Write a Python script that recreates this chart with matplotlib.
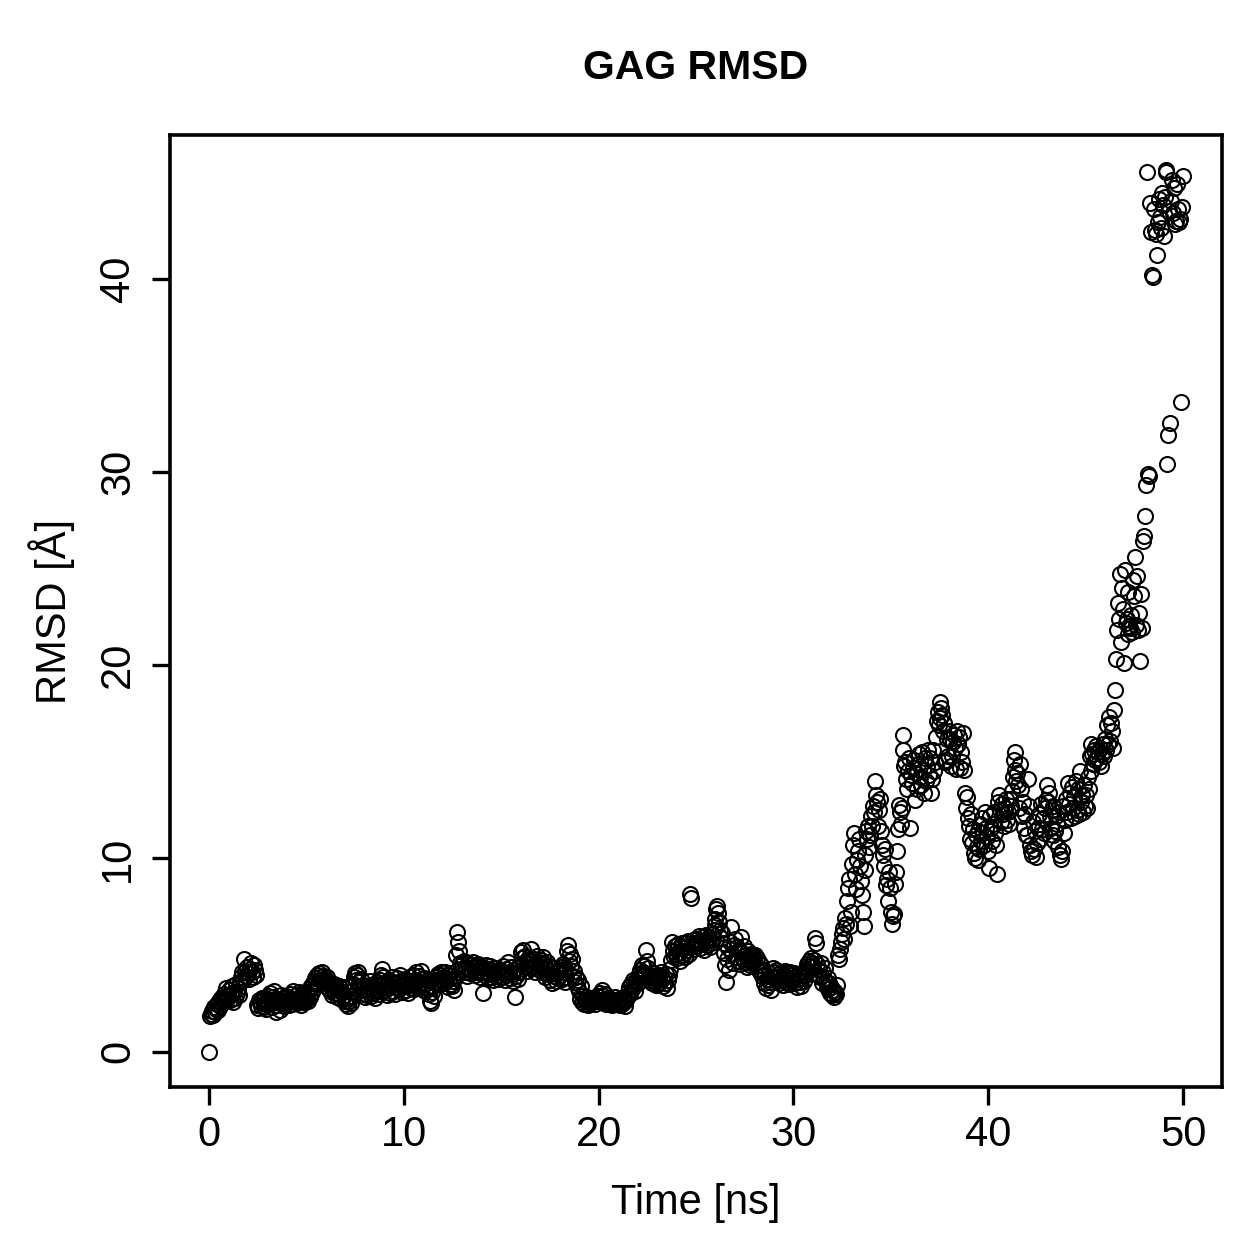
import numpy as np
import matplotlib
matplotlib.use("Agg")
import matplotlib.pyplot as plt

# RMSD of the GAG chain, one frame every 0.05 ns (one row = 1 ns)
rmsd = [
    0.00, 1.85, 1.95, 2.10, 1.90, 2.30, 2.05, 2.20, 2.45, 2.15, 2.60, 2.35, 2.80, 2.50, 2.70, 3.00, 2.65, 2.90, 3.30, 2.75,
    2.90, 3.20, 2.70, 2.95, 3.40, 2.55, 3.10, 2.80, 3.50, 3.05, 3.30, 2.95, 3.60, 3.85, 4.10, 3.70, 4.80, 4.20, 3.90, 4.40,
    4.05, 3.75, 4.30, 4.60, 4.15, 3.85, 4.50, 4.25, 3.95, 2.40, 2.25, 2.70, 2.55, 2.35, 2.80, 2.60, 2.30, 2.75, 2.50, 2.20,
    2.65, 2.90, 2.45, 3.05, 2.70, 2.30, 2.85, 3.15, 2.55, 2.05, 2.40, 2.75, 2.60, 2.15, 2.95, 2.50, 2.80, 2.35, 2.65, 2.90,
    2.55, 2.85, 2.40, 3.00, 2.70, 2.45, 3.15, 2.75, 2.60, 2.95, 2.50, 2.80, 3.10, 2.65, 2.40, 2.90, 2.70, 3.05, 2.55, 2.85,
    2.70, 3.00, 2.60, 3.25, 2.85, 3.40, 3.10, 3.55, 3.30, 3.80, 3.65, 3.95, 3.50, 4.05, 3.85, 3.70, 4.10, 3.60, 3.90, 3.75,
    3.55, 3.85, 3.30, 3.60, 3.15, 3.45, 2.95, 3.25, 3.50, 3.05, 3.35, 2.85, 3.20, 3.40, 3.00, 3.30, 2.75, 3.10, 3.35, 2.90,
    2.65, 2.45, 2.80, 2.35, 2.60, 2.90, 2.50, 3.15, 3.50, 3.85, 4.05, 3.70, 3.95, 4.10, 3.60, 3.35, 3.75, 3.20, 3.45, 3.00,
    2.85, 3.20, 2.95, 3.40, 3.10, 3.65, 2.90, 3.30, 3.05, 3.50, 2.80, 3.25, 3.60, 3.15, 3.45, 3.00, 3.70, 3.95, 4.30, 3.85,
    3.55, 3.20, 3.45, 2.95, 3.30, 3.70, 3.05, 3.40, 3.85, 3.15, 3.50, 3.00, 3.35, 3.80, 3.60, 3.25, 3.95, 3.45, 3.10, 3.65,
    3.40, 3.75, 3.20, 3.55, 3.05, 3.45, 3.85, 3.30, 3.60, 3.95, 3.50, 3.25, 3.70, 4.10, 3.65, 3.40, 3.90, 3.55, 4.20, 3.75,
    3.45, 3.80, 3.15, 3.55, 3.30, 3.70, 3.00, 2.65, 2.50, 3.10, 3.40, 2.90, 3.60, 3.85, 3.50, 4.00, 3.75, 3.95, 4.15, 3.70,
    3.85, 3.55, 4.10, 3.70, 3.95, 3.35, 3.75, 4.05, 3.50, 3.90, 3.40, 3.65, 3.20, 3.80, 5.00, 6.20, 5.70, 5.20, 4.60, 4.30,
    4.55, 4.25, 4.70, 4.15, 4.40, 3.90, 4.60, 4.30, 4.05, 4.50, 4.20, 4.65, 4.35, 3.95, 4.45, 4.10, 4.55, 4.25, 3.85, 4.40,
    4.15, 3.05, 4.35, 3.95, 4.50, 4.10, 3.80, 4.30, 4.00, 4.45, 3.85, 4.20, 3.70, 4.05, 4.35, 3.90, 4.15, 3.75, 4.25, 3.95,
    4.20, 3.85, 4.45, 4.05, 3.70, 4.30, 3.95, 4.65, 4.15, 3.80, 4.40, 4.00, 3.65, 4.25, 2.85, 3.90, 4.35, 3.75, 4.10, 4.55,
    5.15, 4.85, 5.25, 4.60, 4.95, 4.40, 4.75, 4.20, 4.55, 4.90, 4.35, 5.30, 4.70, 4.45, 4.80, 4.10, 4.60, 4.95, 4.30, 4.65,
    4.40, 4.75, 4.15, 4.90, 4.55, 3.85, 4.30, 4.65, 4.00, 4.45, 3.70, 4.20, 3.55, 4.05, 3.90, 4.35, 3.65, 4.10, 3.80, 4.25,
    3.95, 4.40, 3.75, 4.55, 4.15, 3.60, 4.30, 3.85, 5.20, 5.50, 4.70, 5.05, 4.45, 4.80, 3.90, 4.20, 3.60, 3.85, 3.40, 3.70,
    3.15, 2.75, 3.40, 2.55, 2.90, 2.45, 2.70, 2.60, 2.85, 2.40, 2.65, 2.50, 2.75, 2.55, 2.80, 2.60, 2.45, 2.70, 2.90, 2.65,
    2.85, 3.05, 2.70, 3.20, 2.55, 2.90, 2.65, 3.00, 2.45, 2.75, 2.60, 2.80, 2.50, 2.70, 2.40, 2.65, 2.55, 2.85, 2.45, 2.60,
    2.50, 2.75, 2.40, 2.65, 2.45, 2.80, 2.55, 2.35, 2.70, 2.90, 3.10, 3.35, 3.00, 3.50, 3.25, 3.70, 3.40, 3.15, 3.60, 3.80,
    3.55, 4.00, 3.75, 4.25, 3.90, 4.50, 4.15, 4.45, 4.00, 5.25, 4.70, 4.35, 3.95, 3.70, 3.85, 3.55, 4.05, 3.65, 3.90, 3.45,
    3.80, 3.50, 3.95, 3.60, 4.10, 3.75, 3.40, 3.85, 3.55, 4.00, 3.30, 3.70, 3.95, 4.30, 4.75, 5.70, 5.20, 4.90, 5.45, 5.05,
    5.30, 4.85, 5.55, 5.10, 4.70, 5.40, 5.65, 5.00, 5.35, 4.90, 5.60, 5.25, 5.75, 5.05, 8.15, 7.95, 5.50, 5.80, 5.30, 5.65,
    5.45, 5.85, 5.60, 6.00, 5.35, 5.75, 5.55, 5.95, 5.25, 5.70, 6.05, 5.50, 5.80, 5.95, 5.40, 5.65, 6.10, 5.85, 6.30, 6.55,
    6.85, 7.40, 7.55, 7.20, 6.70, 6.30, 5.90, 6.15, 5.60, 5.10, 4.50, 3.60, 4.80, 5.35, 4.25, 5.70, 6.45, 5.05, 4.60, 5.50,
    5.85, 4.90, 5.40, 4.70, 5.25, 4.55, 5.95, 5.10, 4.80, 5.45, 4.65, 5.00, 4.40, 5.20, 4.75, 4.50, 5.05, 4.85, 4.60, 4.95,
    4.70, 5.00, 4.45, 4.85, 4.30, 4.65, 4.10, 4.50, 3.90, 4.25, 3.55, 4.00, 3.30, 3.75, 3.45, 4.05, 3.60, 3.20, 3.85, 4.35,
    4.10, 3.80, 4.25, 3.65, 4.00, 3.55, 3.90, 4.15, 3.70, 3.45, 3.95, 4.20, 3.60, 3.85, 4.05, 3.50, 3.75, 4.10, 3.65, 3.95,
    3.70, 4.05, 3.55, 3.85, 3.35, 3.75, 4.00, 3.60, 3.40, 3.80, 4.15, 3.65, 3.95, 4.30, 4.55, 4.20, 4.70, 4.45, 4.85, 4.60,
    4.40, 4.75, 5.90, 5.65, 4.55, 3.95, 4.25, 3.85, 4.60, 3.55, 4.10, 3.75, 4.35, 3.60, 3.40, 3.80, 3.25, 3.55, 3.05, 3.35,
    2.95, 3.20, 2.85, 3.10, 3.00, 3.45, 5.00, 4.80, 5.30, 5.70, 6.10, 6.40, 5.85, 6.90, 6.60, 7.80, 8.45, 8.95, 6.50, 7.25,
    9.70, 10.70, 11.30, 9.20, 8.40, 9.90, 10.40, 11.00, 9.60, 8.85, 8.10, 7.25, 6.50, 9.40, 10.20, 11.40, 11.00, 11.70, 10.60, 11.20,
    12.20, 11.70, 12.70, 12.40, 14.00, 13.30, 12.90, 11.70, 12.50, 13.10, 11.40, 10.70, 10.20, 9.60, 10.50, 8.60, 8.95, 7.80, 9.30, 8.45,
    7.25, 6.60, 7.00, 7.15, 8.70, 9.30, 10.40, 11.50, 12.75, 12.40, 11.80, 12.60, 15.60, 16.40, 14.80, 15.00, 14.10, 13.60, 14.50, 15.20,
    11.55, 14.30, 13.90, 14.70, 15.10, 13.00, 14.40, 13.60, 14.90, 15.40, 14.20, 13.80, 15.50, 14.60, 13.40, 15.20, 14.00, 14.80, 15.60, 14.30,
    15.20, 13.40, 14.10, 15.60, 14.50, 15.00, 16.30, 17.10, 17.60, 16.90, 17.25, 18.10, 17.80, 17.40, 16.60, 17.00, 15.00, 15.10, 16.20, 15.30,
    16.60, 16.20, 14.80, 15.30, 16.00, 16.40, 15.70, 14.65, 16.60, 15.90, 16.30, 14.70, 15.50, 15.00, 16.50, 14.60, 13.40, 12.60, 13.20, 12.10,
    11.70, 11.00, 12.30, 10.80, 11.50, 10.30, 10.00, 11.20, 10.60, 9.90, 11.40, 10.50, 11.80, 10.90, 12.10, 11.30, 10.70, 12.40, 11.60, 11.10,
    10.40, 9.50, 12.20, 11.60, 10.90, 11.80, 12.40, 11.30, 10.70, 9.20, 12.90, 13.30, 12.50, 11.90, 12.80, 12.30, 11.70, 12.60, 13.10, 12.00,
    12.40, 11.80, 13.10, 12.70, 13.50, 14.20, 15.10, 14.60, 15.50, 14.00, 14.40, 13.80, 12.60, 14.90, 13.60, 12.20, 12.90, 11.60, 12.30, 11.20,
    11.20, 14.10, 12.70, 10.70, 10.40, 10.20, 11.90, 10.50, 11.40, 10.10, 10.80, 11.60, 12.30, 11.00, 12.80, 11.50, 12.10, 11.30, 12.60, 13.00,
    13.80, 12.90, 13.40, 12.20, 11.60, 12.50, 11.20, 12.70, 10.90, 11.40, 12.20, 11.80, 10.60, 12.40, 10.20, 9.95, 10.40, 12.70, 11.30, 12.00,
    13.10, 12.40, 13.90, 12.80, 13.40, 12.10, 13.70, 12.60, 13.20, 12.20, 14.00, 12.50, 13.60, 12.30, 14.50, 12.90, 13.30, 12.40, 13.80, 12.70,
    13.30, 12.60, 14.20, 13.60, 15.30, 15.90, 14.50, 15.40, 14.90, 15.60, 15.10, 15.80, 15.20, 15.50, 15.00, 15.70, 14.80, 15.40, 15.90, 15.30,
    16.20, 15.60, 16.90, 15.90, 17.30, 16.10, 17.00, 16.60, 15.70, 17.70, 18.70, 20.30, 21.80, 23.20, 22.40, 24.70, 21.20, 24.00, 22.90, 20.10,
    24.90, 22.20, 22.40, 21.60, 23.80, 22.00, 21.90, 22.60, 21.70, 24.40, 23.60, 25.60, 22.10, 24.60, 21.80, 22.70, 20.20, 23.70, 21.90, 26.40,
    26.70, 27.70, 29.30, 45.50, 29.90, 29.80, 43.90, 42.40, 40.20, 40.10, 43.60, 42.50, 42.30, 41.20, 42.90, 44.10, 43.20, 42.60, 44.40, 43.80,
    42.20, 44.20, 45.60, 45.50, 30.40, 31.90, 43.50, 32.50, 44.00, 45.10, 43.40, 44.70, 42.80, 43.00, 44.90, 43.60, 42.90, 43.10, 33.60, 43.70,
    45.30,
]
frame_step_ns = 0.05
time_ns = np.arange(len(rmsd)) * frame_step_ns

x_ticks = [0, 10, 20, 30, 40, 50]
y_ticks = [0, 10, 20, 30, 40]

plt.rcParams['font.family'] = ['Liberation Sans', 'DejaVu Sans']
plt.rcParams['font.size'] = 30

W, H = 1259, 1259
fig = plt.figure(figsize=(W / 100, H / 100), dpi=100)
# plot region as in the R device: box from x 170..1222, y 135..1087 px
ax = fig.add_axes([170 / W, 1 - 1087 / H, 1052 / W, 952 / H])

ax.plot(time_ns, rmsd, linestyle='none', marker='o', ms=10.8,
        mfc='none', mec='black', mew=1.5)

ax.margins(x=0.04, y=0.04)
ax.set_xticks(x_ticks)
ax.set_yticks(y_ticks)

for s in ax.spines.values():
    s.set_linewidth(2.6)
ax.tick_params(axis='both', direction='out', length=13, width=2.4, colors='black')
ax.tick_params(axis='x', pad=7)
ax.tick_params(axis='y', pad=10, labelrotation=90)
for lab in ax.get_yticklabels():
    lab.set_va('center')

ax.set_xlabel('Time [ns]')
ax.set_ylabel('RMSD [Å]')
ax.xaxis.set_label_coords(0.5, (1087 - 1203) / 952)
ax.xaxis.label.set_va('center')
ax.yaxis.set_label_coords((52 - 170) / 1052, 0.5)
ax.yaxis.label.set_va('center')

fig.text(696 / W, 1 - 68 / H, 'GAG RMSD', ha='center', va='center',
         fontweight='bold', fontsize=29.5)

fig.savefig('out.png', dpi=100)
